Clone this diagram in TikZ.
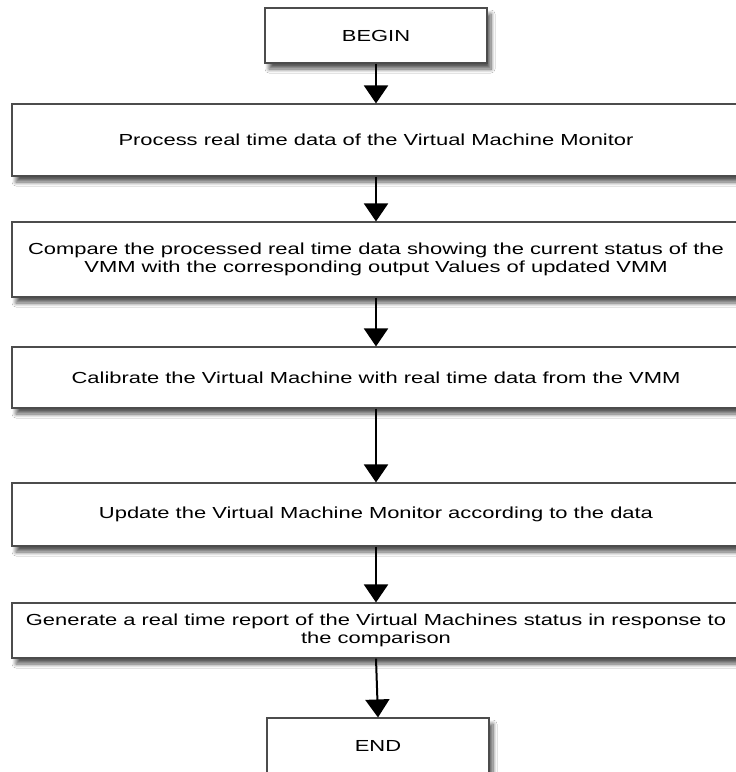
\documentclass[tikz,border=0pt]{standalone}
\usepackage{fontspec}
\setmainfont{Liberation Sans}[FakeStretch=1.37]
\usetikzlibrary{arrows.meta,shadows.blur}
\begin{document}
\begin{tikzpicture}[x=1pt,y=-1pt,
  box/.style={draw=black!70, line width=1.1pt, fill=white, align=center,
    font=\fontsize{16}{18.5}\selectfont, inner sep=0pt,
    blur shadow={shadow xshift=4pt, shadow yshift=-6pt, shadow blur steps=8,
      shadow blur radius=4pt, shadow opacity=65}},
  wide/.style={box, minimum width=728pt},
  term/.style={box, minimum width=222pt, minimum height=55pt},
  flow/.style={line width=2pt, -{Triangle[length=18pt,width=24pt]}}]
  \clip (0,0) rectangle (736,772);
  \fill[white] (0,0) rectangle (736,772);

  \node[term] (begin) at (376,35.5) {BEGIN};
  \node[wide, minimum height=72pt] (process) at (376,140) {Process real time data of the Virtual Machine Monitor};
  \node[wide, minimum height=75pt] (compare) at (376,259.5) {Compare the processed real time data showing the current status of the\\VMM with the corresponding output Values of updated VMM};
  \node[wide, minimum height=61pt] (calibrate) at (376,377.5) {Calibrate the Virtual Machine with real time data from the VMM};
  \node[wide, minimum height=63pt] (update) at (376,514.5) {Update the Virtual Machine Monitor according to the data};
  \node[wide, minimum height=55pt] (report) at (376,630.5) {Generate a real time report of the Virtual Machines status in response to\\the comparison};
  \node[term] (end) at (378,745.5) {END};

  \draw[flow] (begin.south) -- (process.north);
  \draw[flow] (process.south) -- (compare.north);
  \draw[flow] (compare.south) -- (calibrate.north);
  \draw[flow] (calibrate.south) -- (update.north);
  \draw[flow] (update.south) -- (report.north);
  \draw[flow] (report.south) -- (end.north);
\end{tikzpicture}
\end{document}
